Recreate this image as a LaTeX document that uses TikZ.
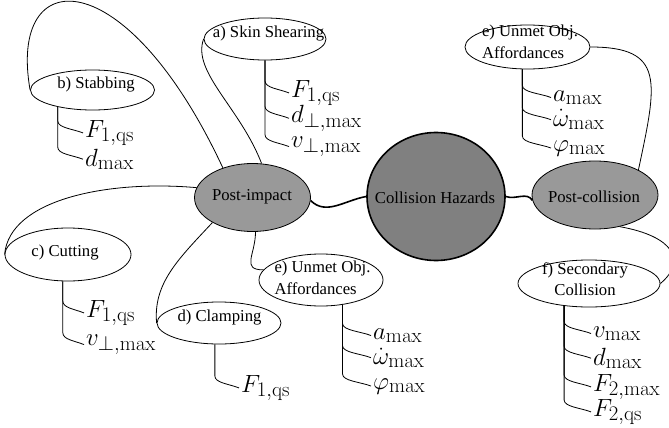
\documentclass[tikz,border=0pt]{standalone}
\usepackage[no-math]{fontspec}
\setmainfont{Liberation Serif}
\usetikzlibrary{shapes.geometric,calc}
\newcommand{\leftlines}[1]{\begin{tabular}{@{}l@{}}#1\end{tabular}}
\begin{document}
\begin{tikzpicture}[x=1pt,y=1pt,
  bubble/.style={ellipse, draw, line width=0.8pt, inner sep=0pt},
  hub/.style={bubble, fill=black!50, line width=1.6pt},
  phase/.style={bubble, fill=black!40},
  hazard/.style={bubble, fill=white},
  dims/.style 2 args={minimum width=#1pt, minimum height=#2pt},
  caption/.style={inner sep=0pt, font=\fontsize{16.7}{21.5}\selectfont},
  param/.style={inner sep=2pt, anchor=base west,
    font=\fontsize{24.88}{30}\selectfont},
  spoke/.style={line width=0.8pt},
  trunk/.style={line width=1.6pt},
  twig/.style={to path={-- ($(\tikztostart |- \tikztotarget)+(0,12)$)
      .. controls +(0,-7) and +(-10,4) .. (\tikztotarget)}}
]
\useasboundingbox (0,0) rectangle (669,-428);
\fill[white] (0,0) rectangle (669,-428);

% central hub and the two phases
\node[hub, dims={138}{128}] (ch) at (436,-196.5) {};
\node[caption] (ch-t) at (435,-198) {Collision Hazards};
\node[phase, dims={116}{68}] (pi) at (252.5,-197.5) {};
\node[caption] (pi-t) at (252,-197) {Post-impact};
\node[phase, dims={126}{68}] (pc) at (595,-195) {};
\node[caption] (pc-t) at (594,-197) {Post-collision};

% hazard types
\node[hazard, dims={122}{42}] (sk) at (265,-39) {};
\node[caption] (sk-t) at (268.5,-34) {a) Skin Shearing};
\node[hazard, dims={124}{40}] (st) at (92.5,-90) {};
\node[caption] (st-t) at (96,-85) {b) Stabbing};
\node[hazard, dims={126}{53}] (cu) at (68,-254.5) {};
\node[caption] (cu-t) at (65,-253) {c) Cutting};
\node[hazard, dims={124}{42}] (cl) at (219,-323) {};
\node[caption] (cl-t) at (219.5,-318) {d) Clamping};
\node[hazard, dims={124}{52}] (ul) at (321,-280) {};
\node[caption] (ul-t) at (322.5,-279) {\leftlines{e) Unmet Obj.\\Affordances}};
\node[hazard, dims={125}{44}] (ur) at (527.5,-47) {};
\node[caption] (ur-t) at (530,-43) {\leftlines{e) Unmet Obj.\\Affordances}};
\node[hazard, dims={142}{47}] (sc) at (589,-283.5) {};
\node[caption, align=center] (sc-t) at (585,-279) {f) Secondary\\Collision};

% links from the hub
\draw[trunk] (ch.west) to[out=190,in=-45] (pi.-3);
\draw[trunk] (ch.east) to[out=-20,in=120] (pc.185);

% links from post-impact
\draw[spoke] (pi.135) .. controls +(115:230) and +(100:130) .. (st.west);
\draw[spoke] (pi.75) .. controls +(111:60) and +(250:35) .. (sk.west);
\draw[spoke] (pi.170) .. controls +(175:90) and +(85:55) .. (cu.west);
\draw[spoke] (pi.212) .. controls +(227:50) and +(95:40) .. (cl.west);
\draw[spoke] (pi.-85) to[out=-90,in=180,looseness=1.5] (ul.170);

% links from post-collision
\draw[spoke] (pc.30) .. controls +(78:90) and +(0:75) .. (ur.east);
\draw[spoke] (pc.-52) .. controls +(-10:55) and +(40:35) .. (sc.east);

% parameter lists
\coordinate (st-r) at (st.206);
\node[param] (st-f) at (83,-137) {$F_{1,\mathrm{qs}}$};
\node[param] (st-d) at (83,-166) {$d_{\max}$};
\draw[spoke] (st-r) edge[twig] (st-f.west) edge[twig] (st-d.west);

\coordinate (sk-r) at (sk.south);
\node[param] (sk-f) at (289,-97) {$F_{1,\mathrm{qs}}$};
\node[param] (sk-d) at (289,-122) {$d_{\perp,\max}$};
\node[param] (sk-v) at (289,-147) {$v_{\perp,\max}$};
\draw[spoke] (sk-r) edge[twig] (sk-f.west) edge[twig] (sk-d.west) edge[twig] (sk-v.west);

\coordinate (cu-r) at (cu.259);
\node[param] (cu-f) at (84,-317) {$F_{1,\mathrm{qs}}$};
\node[param] (cu-v) at (84,-345) {$v_{\perp,\max}$};
\draw[spoke] (cu-r) edge[twig] (cu-f.west) edge[twig] (cu-v.west);

\coordinate (cl-r) at (cl.259);
\node[param] (cl-f) at (239,-392) {$F_{1,\mathrm{qs}}$};
\draw[spoke] (cl-r) edge[twig] (cl-f.west);

\coordinate (ul-r) at (ul.-49);
\node[param] (ul-a) at (371,-339) {$a_{\max}$};
\node[param] (ul-w) at (371,-364) {$\dot{\omega}_{\max}$};
\node[param] (ul-p) at (371,-389) {$\varphi_{\max}$};
\draw[spoke] (ul-r) edge[twig] (ul-a.west) edge[twig] (ul-w.west) edge[twig] (ul-p.west);

\coordinate (ur-r) at (ur.257);
\node[param] (ur-a) at (551,-101) {$a_{\max}$};
\node[param] (ur-w) at (551,-126) {$\dot{\omega}_{\max}$};
\node[param] (ur-p) at (551,-151) {$\varphi_{\max}$};
\draw[spoke] (ur-r) edge[twig] (ur-a.west) edge[twig] (ur-w.west) edge[twig] (ur-p.west);

\coordinate (sc-r) at (sc.222);
\node[param] (sc-v) at (591,-337) {$v_{\max}$};
\node[param] (sc-d) at (591,-365) {$d_{\max}$};
\node[param] (sc-m) at (591,-391) {$F_{2,\max}$};
\node[param] (sc-q) at (591,-416) {$F_{2,\mathrm{qs}}$};
\draw[spoke] (sc-r) edge[twig] (sc-v.west) edge[twig] (sc-d.west) edge[twig] (sc-m.west) edge[twig] (sc-q.west);
\end{tikzpicture}
\end{document}
